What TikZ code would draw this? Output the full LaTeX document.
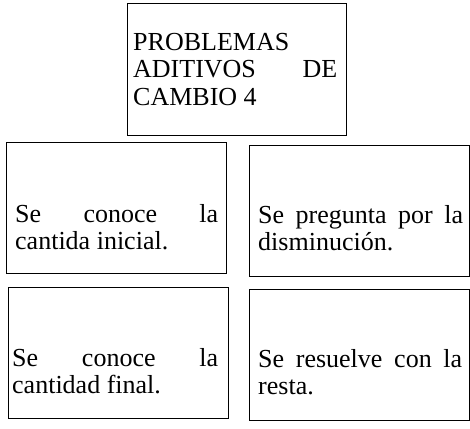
\documentclass[tikz,border=0pt]{standalone}
\usepackage{fontspec}
\setmainfont{Liberation Serif}
\begin{document}
\begin{tikzpicture}[x=1pt,y=-1pt,
  box/.style={draw, line width=1.4pt, inner sep=0pt, anchor=north west},
  txt/.style={inner sep=0pt, anchor=base west, align=justify, text width=#1,
    font=\fontsize{26}{27.5}\selectfont}]
\useasboundingbox (0,0) rectangle (470,428);
% boxes
\node[box, minimum width=219pt, minimum height=132pt] (topbox) at (127,3) {};
\node[box, minimum width=220pt, minimum height=131pt] (mlbox) at (6,142) {};
\node[box, minimum width=220pt, minimum height=131pt] (mrbox) at (249,145) {};
\node[box, minimum width=220pt, minimum height=131pt] (blbox) at (8,287) {};
\node[box, minimum width=220pt, minimum height=131pt] (brbox) at (249,289) {};
% texts
\node[txt=204pt] (toptxt) at (133,50) {PROBLEMAS\\ ADITIVOS DE\linebreak CAMBIO 4};
\node[txt=203pt] (mltxt) at (15,222) {Se conoce la\linebreak cantida inicial.};
\node[txt=205pt] (mrtxt) at (258,223) {Se pregunta por la\linebreak disminución.};
\node[txt=206pt] (bltxt) at (12,366) {Se conoce la\linebreak cantidad final.};
\node[txt=204pt] (brtxt) at (258,367) {Se resuelve con la\linebreak resta.};
\end{tikzpicture}
\end{document}
